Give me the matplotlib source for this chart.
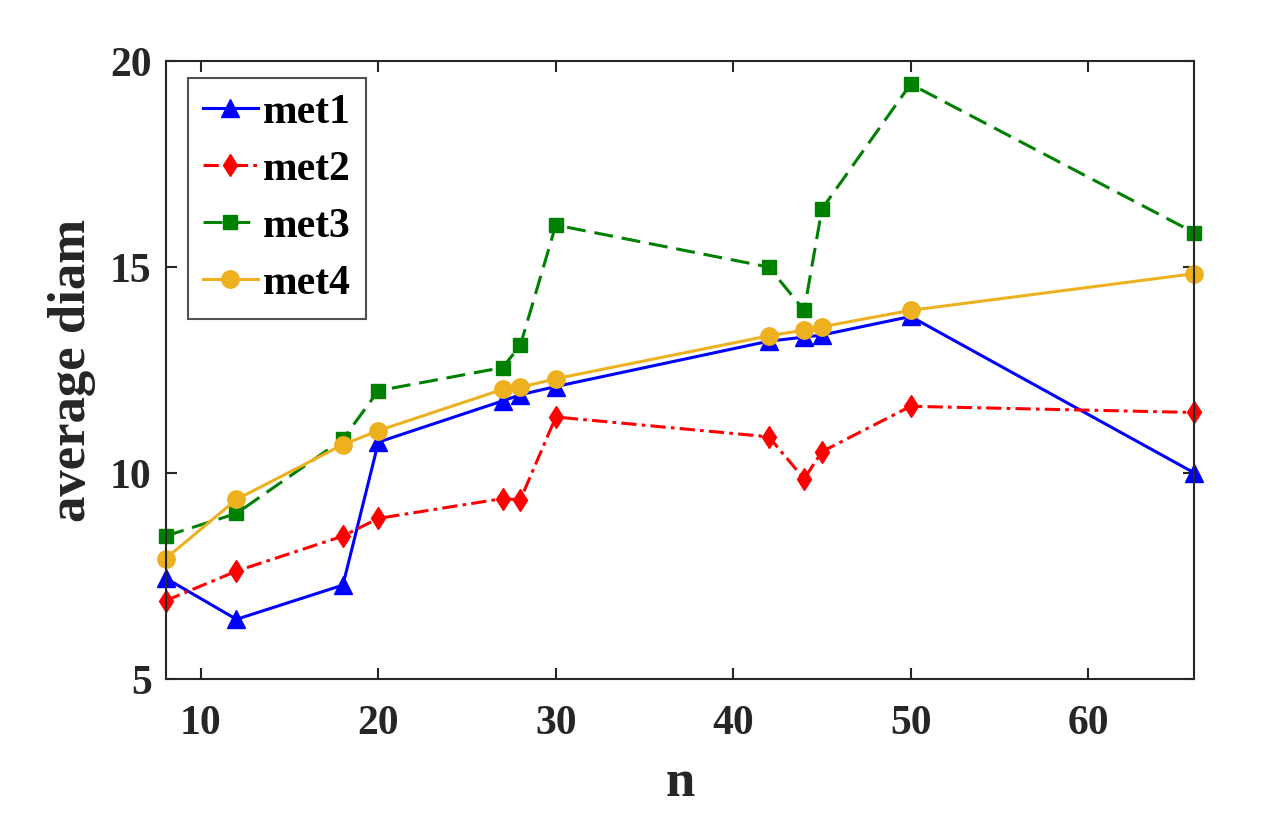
import matplotlib
matplotlib.use("Agg")
import matplotlib.pyplot as plt

n = [8, 12, 18, 20, 27, 28, 30, 42, 44, 45, 50, 66]
met1 = [7.45, 6.45, 7.28, 10.75, 11.75, 11.9, 12.1, 13.2, 13.3, 13.35, 13.8, 10.0]
met2 = [6.9, 7.62, 8.47, 8.9, 9.38, 9.35, 11.36, 10.88, 9.86, 10.52, 11.62, 11.47]
met3 = [8.47, 9.02, 10.82, 12.0, 12.56, 13.1, 16.02, 15.0, 13.95, 16.41, 19.44, 15.83]
met4 = [7.92, 9.36, 10.69, 11.03, 12.03, 12.08, 12.29, 13.33, 13.47, 13.55, 13.95, 14.84]
labels = ["met1", "met2", "met3", "met4"]
xticks = [10, 20, 30, 40, 50, 60]
yticks = [5, 10, 15, 20]

plt.rcParams['font.family'] = ['Liberation Serif', 'DejaVu Serif']
plt.rcParams['font.weight'] = 'bold'

fig = plt.figure(figsize=(12.8, 8.14), dpi=100)
ax = fig.add_axes([0.1293, 0.1658, 0.9332 - 0.1293, 0.925 - 0.1658])

axc = '#262626'
lw = 2.2
l1, = ax.plot(n, met1, '-', color=(0, 0, 1), lw=lw, marker='^', ms=13, label=labels[0])
l2, = ax.plot(n, met2, '-.', color=(1, 0, 0), lw=lw, marker='d', ms=11.5, label=labels[1])
l3, = ax.plot(n, met3, '--', color=(0, 0.5, 0), lw=lw, marker='s', ms=10, label=labels[2])
l4, = ax.plot(n, met4, '-', color=(0.929, 0.694, 0.125), lw=lw, marker='o', ms=12.5, label=labels[3])
l2.set_dashes((5, 1.7, 1.2, 1.7))
l3.set_dashes((6.2, 2.9))
for l in (l1, l2, l3, l4):
    l.set_clip_on(False)

ax.set_xlim(8, 66)
ax.set_ylim(5, 20)
ax.set_xticks(xticks)
ax.set_yticks(yticks)
ax.tick_params(direction='in', length=8, width=1.5, top=True, right=True,
               labelsize=30, colors=axc)
ax.tick_params(axis='x', pad=19)
ax.tick_params(axis='y', pad=10)
for lbl in ax.get_xticklabels() + ax.get_yticklabels():
    lbl.set_fontweight('bold')
for s in ax.spines.values():
    s.set_linewidth(1.5)
    s.set_color(axc)

ax.set_xlabel('n', fontsize=38, fontweight='bold', color=axc, labelpad=11)
ax.set_ylabel('average diam', fontsize=38, fontweight='bold', color=axc, labelpad=10)

leg = ax.legend(loc='upper left', bbox_to_anchor=(0.0214, 0.9725), fontsize=30,
                frameon=True, fancybox=False, edgecolor=axc,
                handlelength=1.3, handletextpad=0.12, labelspacing=0.45,
                borderpad=0.38, borderaxespad=0.0)
leg.get_frame().set_linewidth(1.5)
for t in leg.get_texts():
    t.set_color('black')

fig.savefig('out.png', dpi=100)
